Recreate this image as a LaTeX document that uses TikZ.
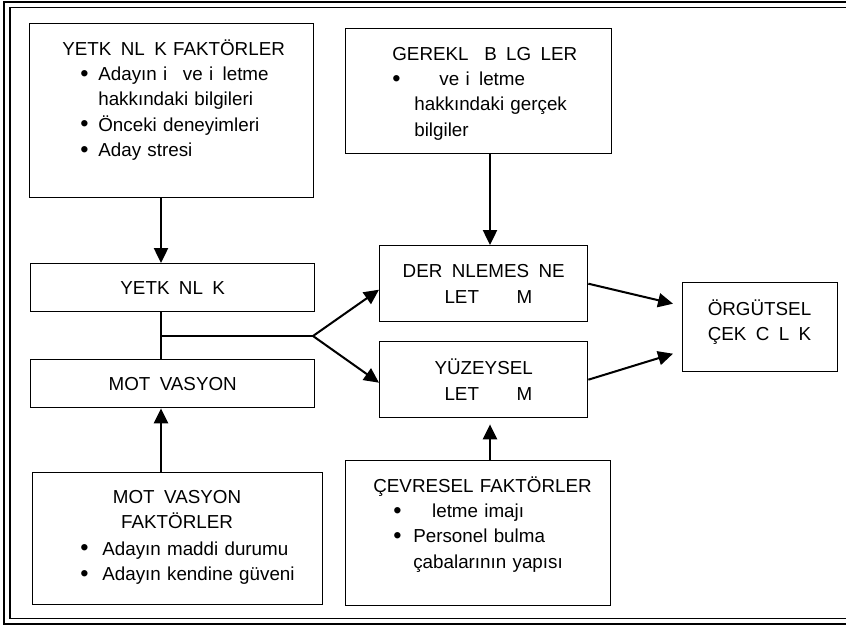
\documentclass[tikz,border=0pt]{standalone}
\usepackage{fontspec}
\setmainfont{Liberation Sans}
\usetikzlibrary{positioning,arrows.meta}
\tikzset{
    kutu/.style={draw, line width=0.8pt, anchor=north west, inner sep=0pt, align=center, font=\fontsize{10.7}{14.5}\selectfont},
    yazi/.style={inner sep=0pt, font=\fontsize{10.7}{14.5}\selectfont},
    ok/.style={line width=1.15pt, -{Triangle[length=8.5pt, width=8pt]}},
    cizgi/.style={line width=0.95pt}
}
\newcommand{\gp}{\hspace{0.5em}}
\newcommand{\nokta}{\raisebox{-0.3pt}{\scalebox{1.25}{•}}}
\newcommand{\madde}[2]{\hspace*{#1}\makebox[#2][l]{\nokta}}

\begin{document}
\begin{tikzpicture}[x=0.02cm, y=-0.02cm]
    \useasboundingbox (0,0) rectangle (846,627);
    % Çerçeve
    \draw[line width=1.6pt] (846,2) -| (4,624) -- (846,624);
    \draw[line width=1.1pt] (846,7.5) -| (10,618.5) -- (846,618.5);

    % Kutular
    \node[kutu, minimum width=5.68cm, minimum height=3.48cm] (yfak) at (29,23) {};
    \node[kutu, minimum width=5.68cm, minimum height=0.96cm] (yet) at (30,263) {YETK\gp NL\gp K};
    \node[kutu, minimum width=5.68cm, minimum height=0.96cm] (mot) at (30,359) {MOT\gp VASYON};
    \node[kutu, minimum width=5.8cm, minimum height=2.64cm] (mfak) at (32,472) {};
    \node[kutu, minimum width=5.32cm, minimum height=2.5cm] (gbil) at (345,28) {};
    \node[kutu, minimum width=4.16cm, minimum height=1.52cm] (derin) at (379,245) {DER\gp NLEMES\gp NE\\ \hspace*{0.5em}LET\hspace{2em}M};
    \node[kutu, minimum width=4.16cm, minimum height=1.52cm] (yuzey) at (379,341) {YÜZEYSEL\\ \hspace*{0.5em}LET\hspace{2em}M};
    \node[kutu, minimum width=5.3cm, minimum height=2.9cm] (cevre) at (345,460) {};
    \node[kutu, minimum width=3.1cm, minimum height=1.78cm] (orgut) at (682,282) {};

    % Kutu yazıları
    \node[yazi, anchor=base west, text width=5cm, align=left] (yfak-y) at (62,55) {YETK\gp NL\gp K FAKTÖRLER\\
        \madde{0.36cm}{0.36cm}Adayın i\gp\ ve i\gp letme\\
        \hspace*{0.72cm}hakkındaki bilgileri\\
        \madde{0.36cm}{0.36cm}Önceki deneyimleri\\
        \madde{0.36cm}{0.36cm}Aday stresi};
    \node[yazi, anchor=base west, text width=4.3cm, align=left] (gbil-y) at (392,60) {GEREKL\gp\ B\gp LG\gp LER\\
        \madde{0pt}{0.44cm}\gp\gp\ ve i\gp letme\\
        \hspace*{0.44cm}hakkındaki gerçek\\
        \hspace*{0.44cm}bilgiler};
    \node[yazi, anchor=base west, text width=4.6cm, align=left] (cevre-y) at (373,492) {ÇEVRESEL FAKTÖRLER\\
        \madde{0.4cm}{0.4cm}\gp\gp letme imajı\\
        \madde{0.4cm}{0.4cm}Personel bulma\\
        \hspace*{0.8cm}çabalarının yapısı};
    \node[yazi, anchor=base, text width=5cm, align=center] (mfak-y) at (177,503) {MOT\gp VASYON\\ FAKTÖRLER};
    \node[yazi, anchor=base west, text width=5cm, align=left] (mfak-l) at (80,555) {\makebox[0.44cm][l]{\nokta}Adayın maddi durumu\\
        \makebox[0.44cm][l]{\nokta}Adayın kendine güveni};
    \node[yazi, anchor=base, text width=3cm, align=center] (orgut-y) at (759.5,315) {ÖRGÜTSEL\\ ÇEK\gp C\gp L\gp K};

    % Bağlantılar
    \coordinate (omurga) at (161,0);
    \coordinate (catal) at (313,336);
    \coordinate (orta) at (490,0);
    \draw[ok] (omurga |- yfak.south) -- (omurga |- yet.north);
    \draw[cizgi] (omurga |- yet.south) -- (omurga |- mot.north);
    \draw[cizgi] (omurga |- catal) -- (catal);
    \draw[ok] (catal) -- ([yshift=-0.12cm]derin.west);
    \draw[ok] (catal) -- ([yshift=-0.06cm]yuzey.west);
    \draw[ok] (omurga |- mfak.north) -- (omurga |- mot.south);
    \draw[ok] (orta |- gbil.south) -- (orta |- derin.north);
    \draw[ok, shorten >=0.12cm] (orta |- cevre.north) -- (orta |- yuzey.south);
    \draw[ok] (derin.east) -- ([xshift=-0.18cm, yshift=0.47cm]orgut.west);
    \draw[ok] (yuzey.east) -- ([xshift=-0.18cm, yshift=-0.53cm]orgut.west);
\end{tikzpicture}
\end{document}
